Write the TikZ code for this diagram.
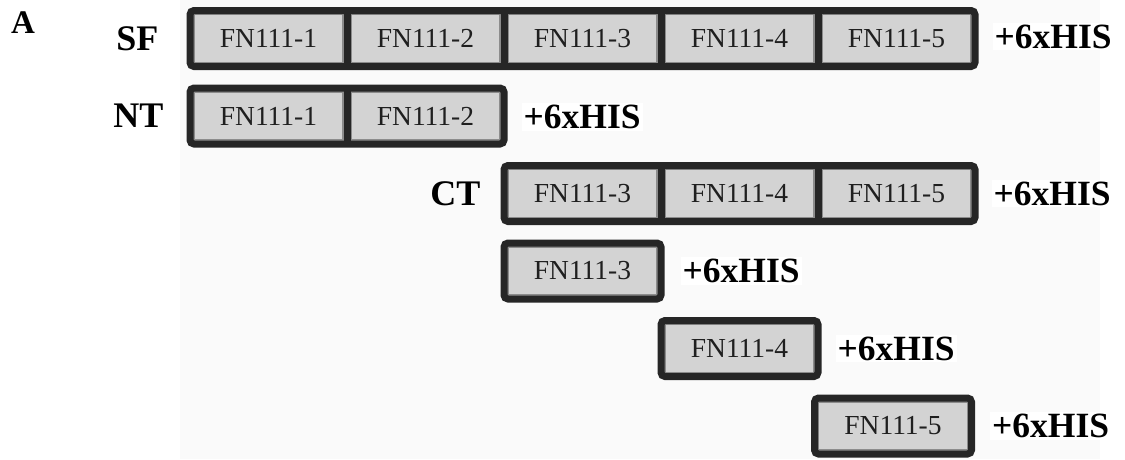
\documentclass[tikz,border=0pt]{standalone}
\usepackage{fontspec}
\setmainfont{Liberation Serif}
\usetikzlibrary{fit,calc}
\definecolor{framecol}{RGB}{38,38,38}
\definecolor{cellfill}{RGB}{211,211,211}
\definecolor{celledge}{RGB}{140,140,140}
\definecolor{bgfaint}{RGB}{250,250,250}
\begin{document}
\begin{tikzpicture}[x=1pt,y=-1pt,
  cell/.style={rectangle, fill=cellfill, draw=celledge, line width=1.2pt,
    minimum width=149pt, minimum height=48pt, inner sep=0pt, outer sep=0pt,
    font=\fontsize{27.5}{29}\selectfont, text=black!88},
  frame/.style={rectangle, draw=framecol, line width=7pt, rounded corners=4pt, inner sep=4pt},
  divider/.style={draw=framecol, line width=7pt, shorten <=-2pt, shorten >=-2pt},
  tag/.style={font=\bfseries\fontsize{35.5}{37}\selectfont, fill=white, inner sep=2pt, anchor=west},
  rowname/.style={font=\bfseries\fontsize{36}{38}\selectfont, inner sep=0pt, anchor=east}]
\useasboundingbox (0,0) rectangle (1125,459);
\fill[bgfaint] (180,0) rectangle (1100,459);

% SF row
\node[cell] (sf1) at (268.5,38.5) {FN111-1};
\node[cell] (sf2) at (425.5,38.5) {FN111-2};
\node[cell] (sf3) at (582.5,38.5) {FN111-3};
\node[cell] (sf4) at (739.5,38.5) {FN111-4};
\node[cell] (sf5) at (896.5,38.5) {FN111-5};
\node[frame, fit=(sf1)(sf5)] (sf) {};
\foreach \a/\b in {sf1/sf2,sf2/sf3,sf3/sf4,sf4/sf5}
  \draw[divider] ($(\a.north east)!.5!(\b.north west)$) -- ($(\a.south east)!.5!(\b.south west)$);

% NT row
\node[cell] (nt1) at (268.5,116) {FN111-1};
\node[cell] (nt2) at (425.5,116) {FN111-2};
\node[frame, fit=(nt1)(nt2)] (nt) {};
\draw[divider] ($(nt1.north east)!.5!(nt2.north west)$) -- ($(nt1.south east)!.5!(nt2.south west)$);

% CT row
\node[cell] (ct3) at (582.5,193.5) {FN111-3};
\node[cell] (ct4) at (739.5,193.5) {FN111-4};
\node[cell] (ct5) at (896.5,193.5) {FN111-5};
\node[frame, fit=(ct3)(ct5)] (ct) {};
\foreach \a/\b in {ct3/ct4,ct4/ct5}
  \draw[divider] ($(\a.north east)!.5!(\b.north west)$) -- ($(\a.south east)!.5!(\b.south west)$);

% single domains
\node[cell] (d3) at (582.5,271) {FN111-3};
\node[frame, fit=(d3)] (s3) {};
\node[cell] (d4) at (739.5,348.5) {FN111-4};
\node[frame, fit=(d4)] (s4) {};
\node[cell] (d5) at (893,426) {FN111-5};
\node[frame, fit=(d5)] (s5) {};

% row names
\node[font=\bfseries\fontsize{33}{35}\selectfont, inner sep=0pt, anchor=base west] (lblA) at (11,33) {A};
\node[rowname] (lsf) at ($(sf.west)+(-28,0)$) {SF};
\node[rowname] (lnt) at ($(nt.west)+(-23,0)$) {NT};
\node[rowname] (lct) at ($(ct.west)+(-20,0)$) {CT};

% tags
\node[tag] (tsf) at ($(sf.east)+(14,-2)$) {+6xHIS};
\node[tag] (tnt) at ($(nt.east)+(14,1)$) {+6xHIS};
\node[tag] (tct) at ($(ct.east)+(13,0)$) {+6xHIS};
\node[tag] (ts3) at ($(s3.east)+(16,0)$) {+6xHIS};
\node[tag] (ts4) at ($(s4.east)+(14,0)$) {+6xHIS};
\node[tag] (ts5) at ($(s5.east)+(15,0)$) {+6xHIS};
\end{tikzpicture}
\end{document}
